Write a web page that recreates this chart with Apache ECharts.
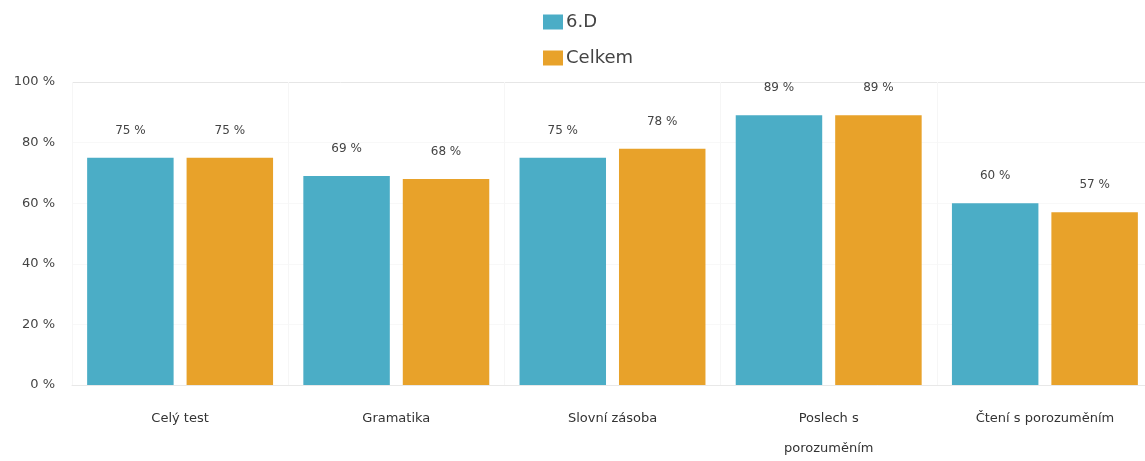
<!DOCTYPE html>
<html><head><meta charset="utf-8">
<script src="https://cdn.jsdelivr.net/npm/echarts@6/dist/echarts.min.js"></script>
<style>html,body{margin:0;padding:0;background:#fff}#c{width:1145px;height:461px}</style>
</head><body><div id="c"></div>
<script>
const categories = ['Celý test', 'Gramatika', 'Slovní zásoba', 'Poslech s\nporozuměním', 'Čtení s porozuměním'];
const seriesNames = ['6.D', 'Celkem'];
const valuesClass = [75, 69, 75, 89, 60];
const valuesTotal = [75, 68, 78, 89, 57];
const yTicks = [0, 20, 40, 60, 80, 100];

const chart = echarts.init(document.getElementById('c'));
const font = '"DejaVu Sans", Verdana, sans-serif';
const lbl = {show: true, position: 'top', distance: 21, formatter: p => p.value + ' %', color: '#444', fontSize: 12, fontFamily: font};
chart.setOption({
  animation: false,
  legend: {
    top: 8, left: 538, orient: 'vertical', itemGap: 18,
    itemWidth: 20, itemHeight: 15, icon: 'rect',
    textStyle: {fontSize: 18, color: '#444', fontFamily: font, padding: [0, 0, 0, -2]},
    data: seriesNames
  },
  grid: {left: 72, right: -8, top: 82, bottom: 76, containLabel: false, outerBoundsMode: 'none'},
  xAxis: {
    type: 'category', data: categories,
    axisLine: {lineStyle: {color: '#e8e8e8'}}, axisTick: {show: false},
    splitLine: {show: true, lineStyle: {color: '#f6f6f6'}},
    axisLabel: {color: '#333', fontSize: 13, fontFamily: font, margin: 19, lineHeight: 30, interval: 0}
  },
  yAxis: {
    type: 'value', min: yTicks[0], max: yTicks[yTicks.length - 1], interval: 20,
    axisLine: {show: false}, axisTick: {show: false},
    splitLine: {lineStyle: {color: ['#ececec', '#f8f8f8', '#f8f8f8', '#f8f8f8', '#f8f8f8', '#e6e6e6']}},
    axisLabel: {formatter: '{value} %', color: '#444', fontSize: 13, fontFamily: font, margin: 17}
  },
  series: [
    {name: seriesNames[0], type: 'bar', data: valuesClass, itemStyle: {color: '#4BADC6'}, label: lbl, barGap: '15%', barCategoryGap: '14%'},
    {name: seriesNames[1], type: 'bar', data: valuesTotal, itemStyle: {color: '#E8A22A'}, label: lbl, barGap: '15%', barCategoryGap: '14%'}
  ]
});
</script></body></html>
